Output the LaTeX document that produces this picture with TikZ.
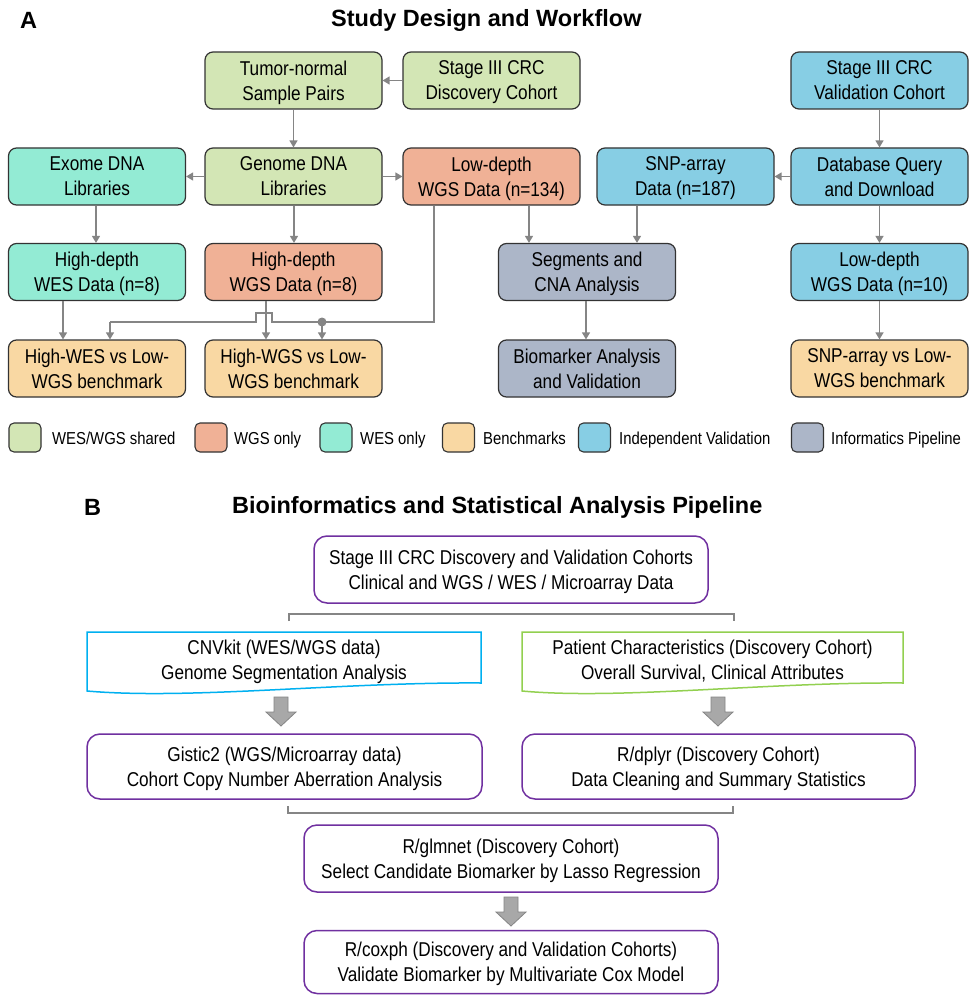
\documentclass[tikz,border=0pt]{standalone}
\usepackage{fontspec}
\setmainfont[FakeStretch=0.86]{Liberation Sans}
\newfontfamily\titlefont{Liberation Sans}
\usetikzlibrary{arrows.meta}
\definecolor{cshared}{HTML}{D3E6B5}
\definecolor{cwgs}{HTML}{F0B196}
\definecolor{cwes}{HTML}{93EBD4}
\definecolor{cbench}{HTML}{F9D8A3}
\definecolor{cval}{HTML}{87CEE4}
\definecolor{cinfo}{HTML}{ACB6C8}
\definecolor{cedge}{HTML}{333333}
\definecolor{cline}{HTML}{858585}
\definecolor{cpurple}{HTML}{7030A0}
\definecolor{cblue}{HTML}{00B0F0}
\definecolor{cgreen}{HTML}{92D050}
\definecolor{cblock}{HTML}{A8A8A8}
\tikzset{
  boxA/.style={draw=cedge, line width=1.2pt, rounded corners=8pt,
    minimum width=177pt, minimum height=57pt, inner sep=0pt, align=center,
    text depth=0pt, font=\fontsize{20}{25}\selectfont},
  conn/.style={draw=cline, line width=1.4pt, -{Triangle[length=7pt,width=8pt]}},
  plain/.style={draw=cline, line width=1.4pt},
  swatch/.style={draw=cedge, line width=1.1pt, rounded corners=5pt,
    minimum width=32pt, minimum height=29pt, inner sep=0pt},
  legtext/.style={anchor=base west, inner sep=0pt, font=\fontsize{17.3}{20}\selectfont},
  boxB/.style={draw=cpurple, line width=1.5pt, rounded corners=13pt,
    inner sep=0pt, align=center, text depth=0pt, font=\fontsize{20}{25}\selectfont},
  doctext/.style={inner sep=0pt, align=center, text depth=0pt, font=\fontsize{20}{25}\selectfont},
  blockarrow/.style={fill=cblock, draw=cline, line width=0.8pt},
  ttl/.style={inner sep=0pt, font=\titlefont\bfseries\fontsize{23.5}{28}\selectfont}
}
\begin{document}
\begin{tikzpicture}[x=1pt,y=-1pt]
\useasboundingbox (0,0) rectangle (969,995);
\fill[white] (0,0) rectangle (969,995);

% ---------- Titles A ----------
\node[ttl, anchor=west] (labA) at (20,20) {A};
\node[ttl, anchor=west] (ttlA) at (331,20) {Study Design and Workflow};

% ---------- Part A boxes ----------
\node[boxA, fill=cshared] (tumor) at (293.5,80.5) {Tumor-normal\\Sample Pairs};
\node[boxA, fill=cshared] (disc) at (491.5,80.5) {Stage III CRC\\Discovery Cohort};
\node[boxA, fill=cval] (valc) at (879.5,80.5) {Stage III CRC\\Validation Cohort};

\node[boxA, fill=cwes] (exome) at (97,176.5) {Exome DNA\\Libraries};
\node[boxA, fill=cshared] (genome) at (293.5,176.5) {Genome DNA\\Libraries};
\node[boxA, fill=cwgs] (lowwgs) at (491.5,176.5) {Low-depth\\WGS Data (n=134)};
\node[boxA, fill=cval] (snp) at (685.5,176.5) {SNP-array\\Data (n=187)};
\node[boxA, fill=cval] (db) at (879.5,176.5) {Database Query\\and Download};

\node[boxA, fill=cwes] (hwes) at (97,272) {High-depth\\WES Data (n=8)};
\node[boxA, fill=cwgs] (hwgs) at (293.5,272) {High-depth\\WGS Data (n=8)};
\node[boxA, fill=cinfo] (seg) at (587,272) {Segments and\\CNA Analysis};
\node[boxA, fill=cval] (low10) at (879.5,272) {Low-depth\\WGS Data (n=10)};

\node[boxA, fill=cbench] (bwes) at (97,368.5) {High-WES vs Low-\\WGS benchmark};
\node[boxA, fill=cbench] (bwgs) at (293.5,368.5) {High-WGS vs Low-\\WGS benchmark};
\node[boxA, fill=cinfo] (bio) at (587,368.5) {Biomarker Analysis\\and Validation};
\node[boxA, fill=cbench] (bsnp) at (879.5,368.5) {SNP-array vs Low-\\WGS benchmark};

% ---------- Part A connectors ----------
\draw[conn] (disc.west) -- (tumor.east);
\draw[conn] (tumor.south) -- (genome.north);
\draw[conn] (genome.west) -- (exome.east);
\draw[conn] (genome.east) -- (lowwgs.west);
\draw[conn] (valc.south) -- (db.north);
\draw[conn] (db.west) -- (snp.east);
\draw[conn] (db.south) -- (low10.north);
\draw[conn] (low10.south) -- (bsnp.north);

\coordinate (xA) at (96,0);
\coordinate (xB) at (294,0);
\coordinate (xC) at (63,0);
\coordinate (xD) at (266,0);
\coordinate (xE) at (529,0);
\coordinate (xF) at (637,0);
\coordinate (xG) at (586,0);
\draw[conn] (exome.south -| xA) -- (hwes.north -| xA);
\draw[conn] (genome.south -| xB) -- (hwgs.north -| xB);
\draw[conn] (hwes.south -| xC) -- (bwes.north -| xC);
\draw[conn] (hwgs.south -| xD) -- (bwgs.north -| xD);
\draw[conn] (lowwgs.south -| xE) -- (seg.north -| xE);
\draw[conn] (snp.south -| xF) -- (seg.north -| xF);
\draw[conn] (seg.south -| xG) -- (bio.north -| xG);

% merged line with bridge
\coordinate (m1) at (434,322);
\coordinate (dot) at (322,322);
\coordinate (j1) at (272,322);
\coordinate (j2) at (272,313);
\coordinate (j3) at (256,313);
\coordinate (j4) at (256,322);
\coordinate (m2) at (110,322);
\draw[plain] (lowwgs.south -| m1) -- (m1) -- (dot) -- (j1) -- (j2) -- (j3) -- (j4) -- (m2);
\draw[conn] (m2) -- (bwes.north -| m2);
\draw[conn] (dot) -- (bwgs.north -| dot);
\fill[cline] (dot) circle (4.5pt);

% ---------- Legend ----------
\node[swatch, fill=cshared] (s1) at (25,437.5) {};
\node[legtext] (l1) at (52,444) {WES/WGS shared};
\node[swatch, fill=cwgs] (s2) at (211,437.5) {};
\node[legtext] (l2) at (234,444) {WGS only};
\node[swatch, fill=cwes] (s3) at (336,437.5) {};
\node[legtext] (l3) at (360,444) {WES only};
\node[swatch, fill=cbench] (s4) at (458.5,437.5) {};
\node[legtext] (l4) at (483,444) {Benchmarks};
\node[swatch, fill=cval] (s5) at (594.5,437.5) {};
\node[legtext] (l5) at (619,444) {Independent Validation};
\node[swatch, fill=cinfo] (s6) at (807.5,437.5) {};
\node[legtext] (l6) at (831,444) {Informatics Pipeline};

% ---------- Titles B ----------
\node[ttl, anchor=west] (labB) at (84,507) {B};
\node[ttl, anchor=west] (ttlB) at (232,507) {Bioinformatics and Statistical Analysis Pipeline};

% ---------- Part B ----------
\node[boxB, minimum width=394pt, minimum height=67pt] (top) at (511,569.5)
  {Stage III CRC Discovery and Validation Cohorts\\Clinical and WGS / WES / Microarray Data};

\draw[draw=cline, line width=1.3pt] (289,621) -- (289,614) -- (734,614) -- (734,621);

% documents
\draw[draw=cblue, line width=1.5pt] (87,632) -- (481,632) -- (481,683)
  .. controls (340,682) and (190,700) .. (87,691) -- cycle;
\node[doctext] (cnv) at (284,659.5) {CNVkit (WES/WGS data)\\Genome Segmentation Analysis};
\draw[draw=cgreen, line width=1.5pt] (522,632) -- (903,632) -- (903,683)
  .. controls (766,682) and (620,700) .. (522,691) -- cycle;
\node[doctext] (pat) at (712.5,659.5) {Patient Characteristics (Discovery Cohort)\\Overall Survival, Clinical Attributes};

% block arrows
\draw[blockarrow] (274,697) -- (288,697) -- (288,712) -- (296,712) -- (281,726) -- (266,712) -- (274,712) -- cycle;
\draw[blockarrow] (711,697) -- (725,697) -- (725,712) -- (733,712) -- (718,726) -- (703,712) -- (711,712) -- cycle;

\node[boxB, minimum width=395pt, minimum height=65pt] (gis) at (284.5,766.5)
  {Gistic2 (WGS/Microarray data)\\Cohort Copy Number Aberration Analysis};
\node[boxB, minimum width=393pt, minimum height=65pt] (dpl) at (718.5,766.5)
  {R/dplyr (Discovery Cohort)\\Data Cleaning and Summary Statistics};

\draw[draw=cline, line width=1.3pt] (288,806) -- (288,813) -- (733,813) -- (733,806);

\node[boxB, minimum width=414pt, minimum height=67pt] (glm) at (511,858.5)
  {R/glmnet (Discovery Cohort)\\Select Candidate Biomarker by Lasso Regression};

\draw[blockarrow] (504,897) -- (518,897) -- (518,912) -- (526,912) -- (511,926) -- (496,912) -- (504,912) -- cycle;

\node[boxB, minimum width=414pt, minimum height=63pt] (cox) at (511,962)
  {R/coxph (Discovery and Validation Cohorts)\\Validate Biomarker by Multivariate Cox Model};
\end{tikzpicture}
\end{document}
